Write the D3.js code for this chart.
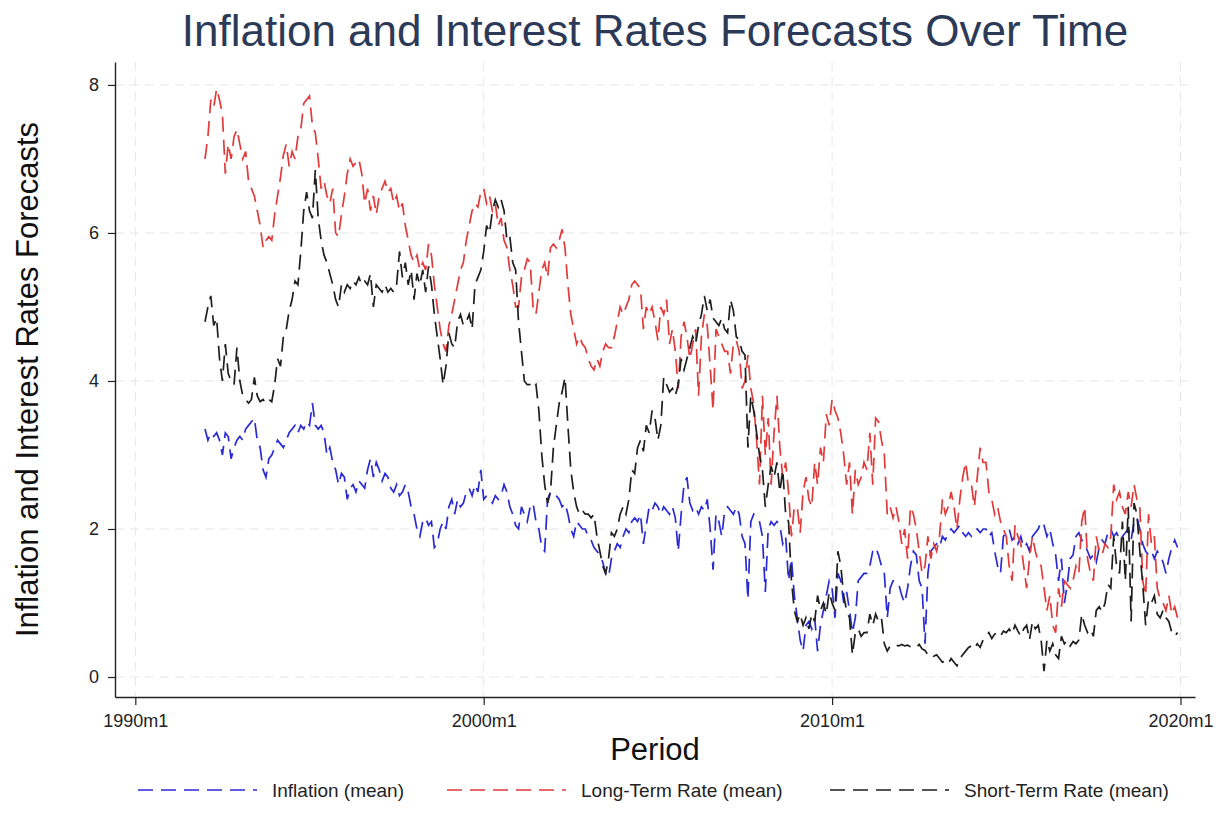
<!DOCTYPE html>
<html>
<head>
<meta charset="utf-8">
<script src="https://cdn.jsdelivr.net/npm/d3@7/dist/d3.min.js"></script>
<style>
  body { margin: 0; background: #fff; }
  svg { display: block; font-family: "Liberation Sans", Arial, Helvetica, sans-serif; }
</style>
</head>
<body>
<svg id="chart"></svg>
<script>
// months counted from 1990m1; every series starts at 1992m1 and is monthly
const startMonth = 24;

// Inflation (mean), 1992m1 .. 2019m12, one row per year
const inflation = [
  3.35,3.2,3.3,3.25,3.3,3.2,3.0,3.3,3.25,2.95,3.1,3.2,
  3.25,3.2,3.35,3.4,3.45,3.5,3.2,3.1,2.8,2.7,2.95,3.0,
  3.1,3.2,3.15,3.1,3.2,3.3,3.35,3.4,3.3,3.4,3.35,3.45,
  3.4,3.7,3.4,3.35,3.4,3.3,3.0,3.1,2.9,2.8,2.6,2.75,
  2.7,2.4,2.55,2.6,2.5,2.65,2.6,2.55,2.8,2.95,2.7,2.9,
  2.8,2.65,2.75,2.7,2.55,2.5,2.6,2.45,2.5,2.6,2.5,2.3,
  2.2,2.0,1.9,2.1,2.15,2.05,2.1,1.75,1.8,2.0,2.1,2.0,
  2.3,2.4,2.2,2.4,2.3,2.35,2.5,2.55,2.45,2.6,2.5,2.8,
  2.4,2.45,2.4,2.35,2.45,2.4,2.45,2.6,2.5,2.3,2.2,2.05,
  2.0,2.3,2.2,2.1,2.3,2.35,2.1,2.0,1.75,1.7,2.4,2.5,
  2.5,2.45,2.4,2.3,2.35,2.2,2.0,1.9,2.1,2.05,2.0,2.0,
  1.9,1.85,1.75,1.7,1.65,1.55,1.4,1.35,1.6,1.7,1.8,1.75,
  1.9,2.0,1.95,2.1,2.15,2.1,2.2,1.8,2.05,2.3,2.25,2.35,
  2.3,2.2,2.3,2.25,2.2,2.3,2.15,1.7,2.2,2.6,2.7,2.35,
  2.25,2.3,2.2,2.3,2.25,2.4,2.0,1.45,2.2,2.1,1.9,2.25,
  2.3,2.25,2.2,2.3,2.2,1.9,1.8,1.05,2.1,2.2,2.15,2.1,
  1.9,1.15,2.0,2.1,2.05,2.1,2.05,1.8,1.9,1.3,1.6,1.1,
  0.8,0.5,0.35,0.7,0.75,0.65,0.8,0.35,0.7,0.9,1.1,1.3,
  1.2,0.8,1.4,1.3,1.0,1.15,0.9,0.6,0.8,1.3,1.35,1.4,
  1.4,1.5,1.7,1.75,1.65,1.5,1.4,0.8,1.2,1.3,1.3,1.25,
  1.1,1.0,1.2,1.5,1.7,1.65,1.3,1.2,0.45,1.4,1.7,1.75,
  1.8,1.75,1.9,1.85,1.95,2.0,1.95,2.0,2.05,1.95,1.9,1.95,
  1.9,1.95,2.0,1.95,2.0,2.0,1.9,1.95,1.7,1.5,1.4,1.9,
  1.95,2.0,1.85,1.9,1.8,1.9,1.75,1.8,1.7,1.9,1.95,2.0,
  2.1,2.05,1.9,2.0,1.8,1.65,1.3,1.6,1.0,1.25,1.6,1.65,
  1.9,1.95,1.85,1.8,1.7,1.6,1.65,1.55,1.75,1.85,1.8,1.95,
  2.0,1.9,1.95,1.85,1.9,1.95,2.0,1.85,2.1,2.15,2.0,1.8,
  1.7,1.65,1.7,1.6,1.7,1.65,1.55,1.4,1.6,1.75,1.85,1.75
];

// Long-Term Rate (mean)
const longRate = [
  7.0,7.3,7.8,7.7,7.95,7.8,7.6,6.8,7.2,7.0,7.3,7.4,
  7.2,7.0,7.1,6.7,6.6,6.5,6.3,6.1,5.8,5.9,5.95,5.9,
  6.25,6.5,6.75,7.05,7.2,6.9,7.1,7.0,7.3,7.4,7.75,7.8,
  7.85,7.45,7.35,7.0,6.6,6.7,6.5,6.4,6.6,6.0,5.95,6.25,
  6.5,6.8,7.0,6.9,6.95,7.0,6.8,6.4,6.6,6.3,6.5,6.25,
  6.5,6.6,6.7,6.55,6.6,6.4,6.5,6.3,6.4,6.1,5.9,5.7,
  5.6,5.7,5.5,5.6,5.5,5.85,5.7,5.3,5.0,4.7,4.5,4.4,
  4.75,4.9,5.1,5.3,5.5,5.6,5.9,6.1,6.3,6.4,6.35,6.55,
  6.6,6.4,6.5,6.3,6.4,6.1,6.2,5.9,5.8,5.5,5.3,5.0,
  5.0,5.4,5.5,5.65,5.6,5.0,4.9,5.2,5.5,5.6,5.4,5.8,
  5.85,5.8,5.9,6.05,5.8,5.3,4.9,4.7,4.5,4.6,4.5,4.45,
  4.3,4.2,4.15,4.3,4.2,4.4,4.5,4.45,4.45,4.6,4.8,5.0,
  4.9,5.0,5.1,5.3,5.35,5.3,5.25,4.7,5.0,4.9,5.0,4.8,
  4.55,5.0,4.9,5.1,4.5,4.7,4.4,3.9,4.6,4.8,4.6,4.3,
  4.5,4.7,3.8,4.6,4.9,4.75,4.2,3.6,4.7,4.6,4.5,4.4,
  4.4,4.1,4.5,4.55,4.4,3.9,4.0,4.35,3.9,3.7,3.2,2.6,
  3.8,3.0,3.5,2.6,3.3,3.8,3.1,2.7,2.9,2.5,1.9,2.3,
  2.3,1.95,2.5,2.7,2.4,2.3,2.9,2.6,3.1,2.9,3.55,3.4,
  3.75,3.6,3.5,3.3,3.0,2.6,2.9,2.2,2.8,2.6,2.7,2.9,
  2.8,3.3,2.6,3.5,3.45,3.2,3.0,2.2,2.3,2.15,2.3,2.1,
  1.8,2.0,1.6,2.3,2.2,2.0,1.7,1.4,1.5,1.9,1.6,1.8,
  1.7,1.9,2.4,2.2,2.3,2.5,2.3,2.0,2.4,2.7,2.9,2.6,
  2.6,2.3,2.7,3.1,2.9,2.9,2.5,2.4,2.2,2.3,2.1,2.0,
  1.9,1.5,1.3,2.05,1.9,1.8,1.5,1.2,1.6,1.9,1.7,1.55,
  1.5,1.2,0.9,1.1,0.7,0.6,1.2,0.95,1.3,1.25,1.2,1.3,
  1.5,1.4,2.1,2.3,1.6,1.4,1.3,1.9,1.7,1.65,1.8,1.75,
  1.9,2.6,2.4,2.5,2.3,2.2,2.5,2.3,2.6,2.4,2.3,1.3,
  1.1,2.2,1.8,1.9,1.2,1.05,1.0,0.9,1.1,0.85,0.95,0.8
];

// Short-Term Rate (mean)
const shortRate = [
  4.8,5.0,5.15,4.75,4.85,4.3,4.0,4.5,4.1,4.0,3.95,4.45,
  4.0,3.8,3.75,3.7,3.75,4.05,3.8,3.72,3.75,3.7,3.75,3.72,
  3.95,4.3,4.2,4.6,4.7,4.95,5.1,5.35,5.3,5.75,6.3,6.55,
  6.3,6.2,6.85,6.2,5.9,5.7,5.6,5.45,5.3,5.1,5.0,5.3,
  5.2,5.3,5.25,5.35,5.3,5.4,5.3,5.35,5.3,5.45,5.0,5.3,
  5.25,5.2,5.3,5.2,5.25,5.2,5.3,5.75,5.4,5.6,5.3,5.5,
  5.1,5.45,5.3,5.5,5.2,5.55,5.3,4.9,4.6,4.3,3.95,4.2,
  4.65,4.5,4.45,4.8,4.9,4.75,4.8,4.9,4.7,5.3,5.4,5.5,
  5.75,6.1,6.0,6.3,6.45,6.35,6.45,6.3,5.9,5.95,5.6,5.5,
  4.8,4.4,4.0,3.95,3.95,3.9,3.95,3.6,3.0,2.6,2.35,2.5,
  3.1,3.4,3.7,3.85,4.05,3.4,2.8,2.5,2.3,2.2,2.25,2.2,
  2.2,2.15,2.2,1.9,1.7,1.5,1.4,1.6,1.95,1.9,2.0,2.2,
  2.3,2.2,2.4,2.8,2.75,3.1,3.2,3.05,3.4,3.3,3.6,3.5,
  3.2,3.4,4.05,3.95,3.85,3.9,3.8,3.95,4.3,4.15,4.3,4.45,
  4.6,4.5,4.75,4.9,5.15,4.95,5.1,4.85,4.8,4.75,4.85,4.7,
  4.65,5.1,4.95,4.6,4.55,4.4,4.35,3.1,3.8,3.6,3.3,3.0,
  2.8,2.3,2.6,2.85,2.7,2.9,2.5,2.8,2.2,2.1,1.3,0.9,
  0.75,0.85,0.7,0.8,0.65,0.85,0.75,1.1,0.9,1.0,0.85,1.15,
  1.0,0.9,1.7,1.5,1.1,0.9,0.8,0.3,0.6,0.65,0.55,0.6,
  0.6,0.85,0.7,0.85,0.75,0.8,0.45,0.35,0.42,0.44,0.43,0.42,
  0.44,0.42,0.43,0.41,0.42,0.4,0.44,0.38,0.36,0.3,0.32,0.28,
  0.3,0.25,0.2,0.22,0.18,0.25,0.2,0.15,0.25,0.3,0.35,0.4,
  0.42,0.38,0.45,0.4,0.5,0.55,0.6,0.52,0.58,0.6,0.55,0.62,
  0.6,0.65,0.58,0.7,0.62,0.55,0.65,0.7,0.5,0.75,0.65,0.7,
  0.5,0.08,0.5,0.35,0.45,0.3,0.25,0.55,0.45,0.5,0.42,0.48,
  0.45,0.5,0.85,0.7,0.6,0.65,0.55,0.9,0.95,0.88,1.0,1.25,
  1.2,1.9,1.5,1.4,2.1,1.3,2.3,0.75,2.35,2.2,1.7,1.25,
  0.7,1.05,1.0,1.1,0.85,0.8,0.9,0.8,0.75,0.6,0.55,0.6
];

const xTickMonths = [0, 120, 240, 360];
const xTickLabels = ["1990m1", "2000m1", "2010m1", "2020m1"];
const yTicks = [0, 2, 4, 6, 8];
const seriesNames = ["Inflation (mean)", "Long-Term Rate (mean)", "Short-Term Rate (mean)"];

const config = {
  width: 1224,
  height: 833,
  margin: {top: 62, right: 29, bottom: 136, left: 115},
  colors: ["#2a2ad4", "#e23a3a", "#1e1e1e"],
  dash: "15,8",
  grid: "#e6e6e6"
};

const svg = d3.select("#chart")
    .attr("width", config.width)
    .attr("height", config.height);

const x0 = config.margin.left, x1 = config.width - config.margin.right;
const y0 = config.height - config.margin.bottom, y1 = config.margin.top;

const xScale = d3.scaleLinear().domain([-7, 365]).range([x0, x1]);
const yScale = d3.scaleLinear().domain([-0.27, 8.31]).range([y0, y1]);

// Grid
svg.append("g").selectAll("line.h")
    .data(yTicks).join("line")
    .attr("x1", x0).attr("x2", x1)
    .attr("y1", d => yScale(d)).attr("y2", d => yScale(d))
    .attr("stroke", config.grid).attr("stroke-dasharray", "9,6");

svg.append("g").selectAll("line.v")
    .data(xTickMonths).join("line")
    .attr("x1", d => xScale(d)).attr("x2", d => xScale(d))
    .attr("y1", y1).attr("y2", y0)
    .attr("stroke", config.grid).attr("stroke-dasharray", "9,6");

// Lines
const series = [inflation, longRate, shortRate];
const line = d3.line()
    .x((d, i) => xScale(startMonth + i))
    .y(d => yScale(d));

series.forEach((s, k) => {
  svg.append("path")
      .datum(s)
      .attr("fill", "none")
      .attr("stroke", config.colors[k])
      .attr("stroke-width", 1.7)
      .attr("stroke-dasharray", config.dash)
      .attr("d", line);
});

// Axes
const xAxis = d3.axisBottom(xScale)
    .tickValues(xTickMonths)
    .tickFormat((d, i) => xTickLabels[i])
    .tickSize(8).tickPadding(9).tickSizeOuter(0);

const yAxis = d3.axisLeft(yScale)
    .tickValues(yTicks)
    .tickSize(7).tickPadding(9).tickSizeOuter(0);

const xAxisG = svg.append("g")
    .attr("transform", `translate(0,${y0})`)
    .call(xAxis);

const yAxisG = svg.append("g")
    .attr("transform", `translate(${x0},0)`)
    .call(yAxis);

[xAxisG, yAxisG].forEach(g => {
  g.select(".domain").attr("stroke", "#222").attr("stroke-width", 1.4);
  g.selectAll(".tick line").attr("stroke", "#222").attr("stroke-width", 1.2);
  g.selectAll(".tick text")
      .attr("fill", "#222")
      .style("font-size", "18px")
      .style("font-family", "'Liberation Sans', Arial, sans-serif");
});

// Title and axis titles
svg.append("text")
    .attr("x", (x0 + x1) / 2)
    .attr("y", 46)
    .attr("text-anchor", "middle")
    .attr("fill", "#2c3a58")
    .style("font-size", "44px")
    .text("Inflation and Interest Rates Forecasts Over Time");

svg.append("text")
    .attr("transform", `translate(38,${(y0 + y1) / 2}) rotate(-90)`)
    .attr("text-anchor", "middle")
    .attr("fill", "#111")
    .style("font-size", "31px")
    .text("Inflation and Interest Rates Forecasts");

svg.append("text")
    .attr("x", (x0 + x1) / 2)
    .attr("y", 760)
    .attr("text-anchor", "middle")
    .attr("fill", "#111")
    .style("font-size", "31px")
    .text("Period");

// Legend
const legendX = [138, 447, 830];
const legend = svg.append("g");
seriesNames.forEach((name, k) => {
  legend.append("line")
      .attr("x1", legendX[k]).attr("x2", legendX[k] + 119)
      .attr("y1", 790).attr("y2", 790)
      .attr("stroke", config.colors[k])
      .attr("stroke-width", 1.7)
      .attr("stroke-dasharray", config.dash);
  legend.append("text")
      .attr("x", legendX[k] + 134)
      .attr("y", 797)
      .attr("fill", "#222")
      .style("font-size", "19px")
      .text(name);
});
</script>
</body>
</html>
